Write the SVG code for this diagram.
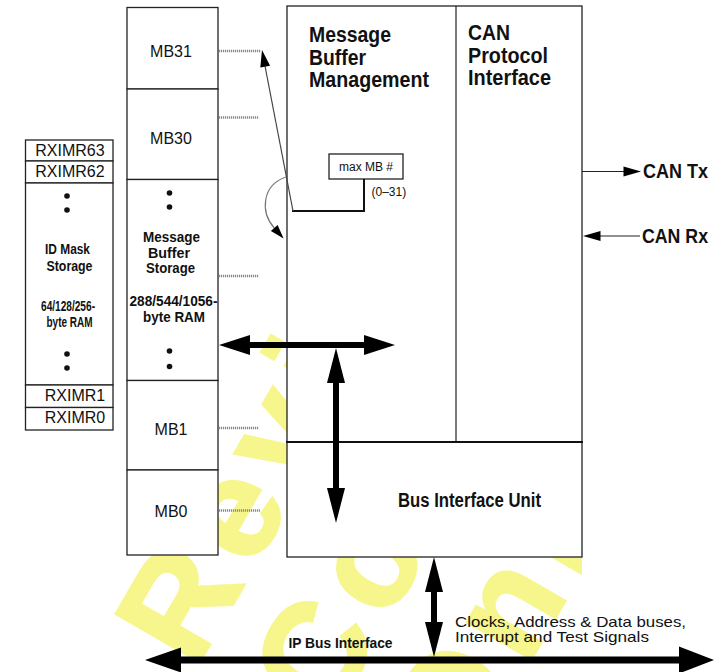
<svg xmlns="http://www.w3.org/2000/svg" width="715" height="672" viewBox="0 0 715 672">
<style>
  .box{fill:#fff;stroke:#222;stroke-width:1.3}
  .lbl{font-family:"Liberation Sans",Arial,sans-serif;fill:#111}
  .reg{font-size:16px;text-anchor:middle}
  .b{font-weight:bold}
  .wm{font-family:"Liberation Sans",Arial,sans-serif;font-weight:bold;font-size:140px;fill:#f6f68c;stroke:#f6f68c;stroke-width:3;letter-spacing:14px}
  .dot{fill:#111}
  .dots{stroke:#8a8a8a;stroke-width:2.5;stroke-dasharray:1.2 0.8;fill:none}
  .thin{stroke:#444;stroke-width:1.2;fill:none}
  .thick{stroke:#000;fill:none}
  .head{fill:#000}
</style>
<defs>
  <clipPath id="wmclip"><rect x="0" y="0" width="582" height="672"/></clipPath>
</defs>

<g id="watermark" clip-path="url(#wmclip)">
  <text class="wm" transform="translate(195,670) rotate(-60)">Review</text>
  <text class="wm" transform="translate(330,722) rotate(-60)">Copy</text>
  <text class="wm" transform="translate(465,774) rotate(-60)">Only</text>
</g>

<g id="id-mask">
  <g id="rximr63"><rect class="box" x="25.5" y="140" width="87.5" height="21"/><text class="lbl reg" x="70" y="156">RXIMR63</text></g>
  <g id="rximr62"><rect class="box" x="25.5" y="161" width="87.5" height="22"/><text class="lbl reg" x="70" y="177">RXIMR62</text></g>
  <g id="id-mask-storage">
    <rect class="box" x="25.5" y="183" width="87.5" height="202"/>
    <circle class="dot" cx="67" cy="196" r="2.8"/><circle class="dot" cx="67" cy="210" r="2.8"/>
    <text class="lbl b" x="45" y="254" font-size="15.5" textLength="45" lengthAdjust="spacingAndGlyphs">ID Mask</text>
    <text class="lbl b" x="46.5" y="270.5" font-size="15.5" textLength="46" lengthAdjust="spacingAndGlyphs">Storage</text>
    <text class="lbl b" x="41" y="311" font-size="15" textLength="54" lengthAdjust="spacingAndGlyphs">64/128/256-</text>
    <text class="lbl b" x="46.5" y="327" font-size="15" textLength="46" lengthAdjust="spacingAndGlyphs">byte RAM</text>
    <circle class="dot" cx="67" cy="354" r="2.8"/><circle class="dot" cx="67" cy="368" r="2.8"/>
  </g>
  <g id="rximr1"><rect class="box" x="25.5" y="385" width="87.5" height="22.5"/><text class="lbl reg" x="75" y="401">RXIMR1</text></g>
  <g id="rximr0"><rect class="box" x="25.5" y="407.5" width="87.5" height="22.5"/><text class="lbl reg" x="75" y="423">RXIMR0</text></g>
</g>

<g id="mb-column">
  <g id="mb31"><rect class="box" x="127" y="7.5" width="91" height="81.5"/><text class="lbl reg" x="171" y="57" font-size="16.5">MB31</text></g>
  <g id="mb30"><rect class="box" x="127" y="89" width="91" height="90.5"/><text class="lbl reg" x="171" y="144" font-size="16.5">MB30</text></g>
  <g id="mb-storage">
    <rect class="box" x="127" y="179.5" width="91" height="201"/>
    <circle class="dot" cx="169.5" cy="193" r="2.8"/><circle class="dot" cx="169.5" cy="207" r="2.8"/>
    <text class="lbl b" x="143" y="241.5" font-size="15" textLength="57" lengthAdjust="spacingAndGlyphs">Message</text>
    <text class="lbl b" x="148" y="257.5" font-size="15" textLength="42" lengthAdjust="spacingAndGlyphs">Buffer</text>
    <text class="lbl b" x="146" y="273" font-size="15" textLength="49" lengthAdjust="spacingAndGlyphs">Storage</text>
    <text class="lbl b" x="129.5" y="306" font-size="15" textLength="88" lengthAdjust="spacingAndGlyphs">288/544/1056-</text>
    <text class="lbl b" x="143" y="322" font-size="15" textLength="62" lengthAdjust="spacingAndGlyphs">byte RAM</text>
    <circle class="dot" cx="169.5" cy="351" r="2.8"/><circle class="dot" cx="169.5" cy="366.5" r="2.8"/>
  </g>
  <g id="mb1"><rect class="box" x="127" y="380.5" width="91" height="89.5"/><text class="lbl reg" x="171" y="435" font-size="16.5">MB1</text></g>
  <g id="mb0"><rect class="box" x="127" y="470" width="91" height="85"/><text class="lbl reg" x="171" y="517" font-size="16.5">MB0</text></g>
</g>

<g id="flexcan-core">
  <rect class="box" x="287" y="6" width="295" height="551"/>
  <g id="message-buffer-management">
    <text class="lbl b" x="309" y="42" font-size="21.5" textLength="82" lengthAdjust="spacingAndGlyphs">Message</text>
    <text class="lbl b" x="309" y="65" font-size="21.5" textLength="57" lengthAdjust="spacingAndGlyphs">Buffer</text>
    <text class="lbl b" x="309" y="87" font-size="21.5" textLength="120" lengthAdjust="spacingAndGlyphs">Management</text>
  </g>
  <g id="can-protocol-interface">
    <line x1="456" y1="6" x2="456" y2="442" stroke="#222" stroke-width="1.2"/>
    <text class="lbl b" x="468" y="40" font-size="21.5" textLength="42" lengthAdjust="spacingAndGlyphs">CAN</text>
    <text class="lbl b" x="468" y="63" font-size="21.5" textLength="80" lengthAdjust="spacingAndGlyphs">Protocol</text>
    <text class="lbl b" x="468" y="85" font-size="21.5" textLength="83" lengthAdjust="spacingAndGlyphs">Interface</text>
  </g>
  <g id="bus-interface-unit">
    <line x1="286" y1="442" x2="583" y2="442" stroke="#111" stroke-width="2"/>
    <text class="lbl b" x="398" y="507" font-size="20" textLength="143" lengthAdjust="spacingAndGlyphs">Bus Interface Unit</text>
  </g>
  <g id="max-mb">
    <rect class="box" x="329" y="154" width="74" height="25" stroke-width="1.2"/>
    <text class="lbl" x="366" y="171" font-size="12" text-anchor="middle">max MB #</text>
    <text class="lbl" x="371.5" y="196" font-size="12">(0–31)</text>
  </g>
</g>

<g id="external-labels">
  <text class="lbl b" x="643" y="178" font-size="20" textLength="65" lengthAdjust="spacingAndGlyphs">CAN Tx</text>
  <text class="lbl b" x="642" y="243" font-size="20" textLength="66" lengthAdjust="spacingAndGlyphs">CAN Rx</text>
  <text class="lbl b" x="288.5" y="648" font-size="15.5" textLength="104" lengthAdjust="spacingAndGlyphs">IP Bus Interface</text>
  <text class="lbl" x="455" y="627" font-size="14.5" textLength="231" lengthAdjust="spacingAndGlyphs">Clocks, Address &amp; Data buses,</text>
  <text class="lbl" x="455" y="641.5" font-size="14.5" textLength="194" lengthAdjust="spacingAndGlyphs">Interrupt and Test Signals</text>
</g>

<g id="connectors">
  <line class="dots" x1="219" y1="51" x2="261" y2="51"/>
  <line class="dots" x1="219" y1="117.5" x2="259" y2="117.5"/>
  <line class="dots" x1="219" y1="276" x2="259" y2="276"/>
  <line class="dots" x1="219" y1="428" x2="259" y2="428"/>
  <line class="dots" x1="219" y1="510.5" x2="260" y2="510.5"/>

  <polyline points="364,179 364,211 292,211" stroke="#111" stroke-width="2" fill="none"/>
  <line class="thin" x1="293" y1="211" x2="265" y2="66"/>
  <polygon class="head" points="262,50 270.1,65.8 260.3,67.6"/>

  <path d="M286,177 C262,185 260,212 274.3,228" stroke="#777" stroke-width="1.2" fill="none"/>
  <polygon class="head" points="283.6,238.4 277.6,225 270.9,231"/>

  <line class="thick" x1="248" y1="345" x2="366" y2="345" stroke-width="6"/>
  <polygon class="head" points="219,345 250,335 250,355"/>
  <polygon class="head" points="395,345 364,335 364,355"/>

  <line class="thick" x1="336" y1="381" x2="336" y2="490" stroke-width="6"/>
  <polygon class="head" points="336,348 327,383 345,383"/>
  <polygon class="head" points="336,523 327,488 345,488"/>

  <line class="thick" x1="434" y1="590" x2="434" y2="624" stroke-width="6"/>
  <polygon class="head" points="434,557 425,592 443,592"/>
  <polygon class="head" points="434,657 425,622 443,622"/>

  <line class="thick" x1="178" y1="660" x2="682" y2="660" stroke-width="7"/>
  <polygon class="head" points="145,660 181,647.5 181,672.5"/>
  <polygon class="head" points="714,660 679,646.5 679,673.5"/>

  <line x1="582" y1="171.5" x2="625" y2="171.5" stroke="#222" stroke-width="1.2"/>
  <polygon class="head" points="641,171.5 623.5,166.5 623.5,176.5"/>
  <line x1="599" y1="236" x2="640" y2="236" stroke="#222" stroke-width="1.2"/>
  <polygon class="head" points="583,236 600.5,231 600.5,241"/>
</g>
</svg>
